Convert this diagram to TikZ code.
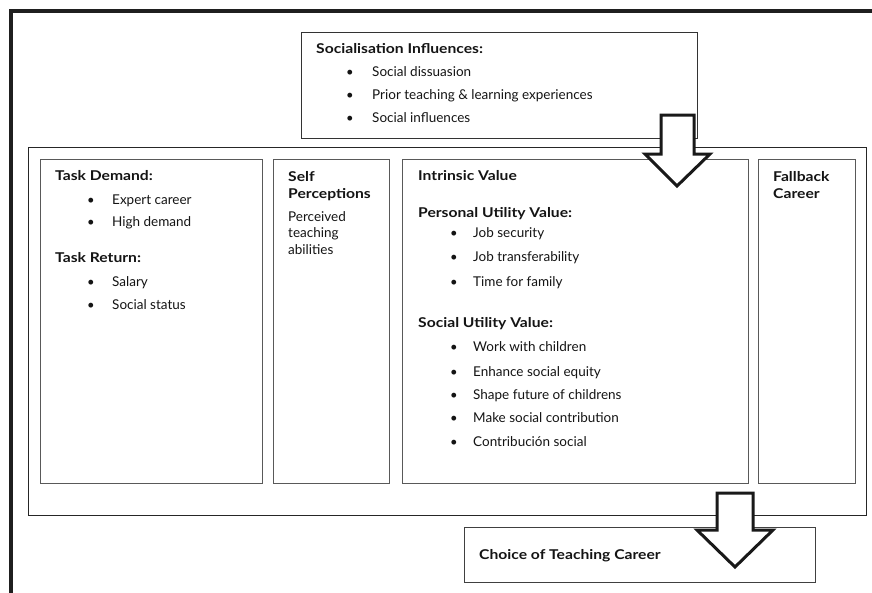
\documentclass[tikz,border=0pt]{standalone}
\usepackage{fontspec}
\setmainfont{Lato}[BoldFeatures={FakeStretch=1.16}]
\begin{document}
\begin{tikzpicture}[x=1pt,y=-1pt,
  txt/.style={inner sep=0pt, anchor=base west, font=\fontsize{13.5}{15}\selectfont, text=black!92},
  hd/.style={txt, font=\fontsize{13.5}{15}\selectfont\bfseries},
  bul/.style={inner sep=0pt, anchor=base, font=\fontsize{13}{15}\selectfont, text=black!92},
  boxst/.style={draw=black!65, line width=0.9pt, fill=none, inner sep=0pt, anchor=north west},
  contst/.style={draw=black!85, line width=1.2pt, inner sep=0pt, anchor=north west},
  blockarrow/.style={draw=black!90, line width=3pt, fill=white, line join=miter},
  framest/.style={draw=black!88, line width=3.2pt}]
\useasboundingbox (0,0) rectangle (872,592);
\clip (0,0) rectangle (872,592);
\fill[white] (0,0) rectangle (872,592);
% outer frame
\coordinate (fbl) at (11,600);
\coordinate (ftl) at (11,11);
\coordinate (ftr) at (880,11);
\draw[framest] (fbl) -- (ftl) -- (ftr);
% socialisation box
\node[boxst, draw=black!80, minimum width=396, minimum height=106] (soc) at (301,32) {};
\node[hd] (soct) at (316,53) {Socialisation Influences:};
\node[bul] (sb1) at (350,76) {\textbullet};
\node[txt] (s1) at (372,76) {Social dissuasion};
\node[bul] (sb2) at (350,99) {\textbullet};
\node[txt] (s2) at (372,99) {Prior teaching \& learning experiences};
\node[bul] (sb3) at (350,122) {\textbullet};
\node[txt] (s3) at (372,122) {Social influences};
% container
\node[contst, minimum width=838, minimum height=368] (cont) at (28,147) {};
% inner boxes
\node[boxst, minimum width=222, minimum height=324] (tdbox) at (40,159) {};
\node[boxst, minimum width=116, minimum height=324] (spbox) at (273,159) {};
\node[boxst, minimum width=346, minimum height=324] (ivbox) at (402,159) {};
\node[boxst, minimum width=97, minimum height=324] (fbbox) at (758,159) {};
% task demand texts
\node[hd] (tdt) at (55,180) {Task Demand:};
\node[bul] (tb1) at (91,204) {\textbullet};
\node[txt] (t1) at (112,204) {Expert career};
\node[bul] (tb2) at (91,226) {\textbullet};
\node[txt] (t2) at (112,226) {High demand};
\node[hd] (trt) at (55,262) {Task Return:};
\node[bul] (tb3) at (91,286) {\textbullet};
\node[txt] (t3) at (112,286) {Salary};
\node[bul] (tb4) at (91,309) {\textbullet};
\node[txt] (t4) at (112,309) {Social status};
% self perceptions
\node[hd] (sp1) at (288,181) {Self};
\node[hd] (sp2) at (288,198) {Perceptions};
\node[txt] (sp3) at (288,221) {Perceived};
\node[txt] (sp4) at (288,237) {teaching};
\node[txt] (sp5) at (288,254) {abilities};
% intrinsic value
\node[hd] (ivt) at (418,180) {Intrinsic Value};
\node[hd] (put) at (418,217) {Personal Utility Value:};
\node[bul] (pb1) at (454,237) {\textbullet};
\node[txt] (p1) at (473,237) {Job security};
\node[bul] (pb2) at (454,261) {\textbullet};
\node[txt] (p2) at (473,261) {Job transferability};
\node[bul] (pb3) at (454,286) {\textbullet};
\node[txt] (p3) at (473,286) {Time for family};
\node[hd] (sut) at (418,327) {Social Utility Value:};
\node[bul] (ub1) at (454,351) {\textbullet};
\node[txt] (u1) at (473,351) {Work with children};
\node[bul] (ub2) at (454,376) {\textbullet};
\node[txt] (u2) at (473,376) {Enhance social equity};
\node[bul] (ub3) at (454,399) {\textbullet};
\node[txt] (u3) at (473,399) {Shape future of childrens};
\node[bul] (ub4) at (454,422) {\textbullet};
\node[txt] (u4) at (473,422) {Make social contribution};
\node[bul] (ub5) at (454,446) {\textbullet};
\node[txt] (u5) at (473,446) {Contribución social};
% fallback
\node[hd] (fb1) at (773,181) {Fallback};
\node[hd] (fb2) at (773,198) {Career};
% choice box
\node[boxst, draw=black!75, minimum width=351, minimum height=55] (choice) at (464,527) {};
\node[hd] (cht) at (479,559) {Choice of Teaching Career};
% top block arrow
\coordinate (a1) at (661,115);
\coordinate (a2) at (694,115);
\coordinate (a3) at (694,154);
\coordinate (a4) at (710,154);
\coordinate (a5) at (677,186);
\coordinate (a6) at (645,154);
\coordinate (a7) at (661,154);
\draw[blockarrow] (a1) -- (a2) -- (a3) -- (a4) -- (a5) -- (a6) -- (a7) -- cycle;
% bottom block arrow
\coordinate (b1) at (717,493);
\coordinate (b2) at (753,493);
\coordinate (b3) at (753,530);
\coordinate (b4) at (773,530);
\coordinate (b5) at (735,567);
\coordinate (b6) at (697,530);
\coordinate (b7) at (717,530);
\draw[blockarrow] (b1) -- (b2) -- (b3) -- (b4) -- (b5) -- (b6) -- (b7) -- cycle;
\end{tikzpicture}
\end{document}
